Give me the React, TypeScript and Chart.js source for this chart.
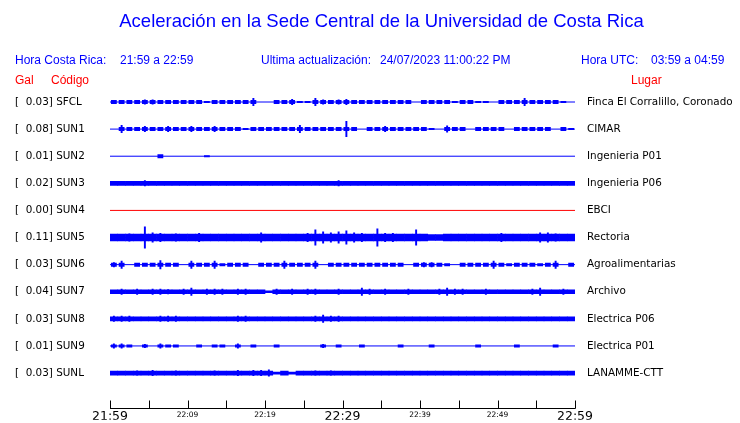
import React, { useEffect, useRef } from 'react';
import { Chart, registerables } from 'chart.js';

Chart.register(...registerables);

// ---------- data ----------
const TITLE = 'Aceleración en la Sede Central de la Universidad de Costa Rica';
const CR_LABEL = 'Hora Costa Rica:';
const CR_RANGE = '21:59 a 22:59';
const UPD_LABEL = 'Ultima actualización:';
const UPD_VALUE = '24/07/2023 11:00:22 PM';
const UTC_LABEL = 'Hora UTC:';
const UTC_RANGE = '03:59 a 04:59';

const CODES = ['SFCL', 'SUN1', 'SUN2', 'SUN3', 'SUN4', 'SUN5', 'SUN6', 'SUN7', 'SUN8', 'SUN9', 'SUNL'];
const GAL = [0.03, 0.08, 0.01, 0.02, 0.0, 0.11, 0.03, 0.04, 0.03, 0.01, 0.03];
const PLACES = [
  'Finca El Corralillo, Coronado',
  'CIMAR',
  'Ingenieria P01',
  'Ingenieria P06',
  'EBCI',
  'Rectoria',
  'Agroalimentarias',
  'Archivo',
  'Electrica P06',
  'Electrica P01',
  'LANAMME-CTT',
];

// x axis: minutes after 21:59, ticks every 5 minutes
const TICK_LABELS = ['21:59', '', '22:09', '', '22:19', '', '22:29', '', '22:39', '', '22:49', '', '22:59'];
const MAJOR_TICKS = ['21:59', '22:29', '22:59'];

// peak amplitude per minute (relative counts)
const AMP_SFCL = [2, 2, 2, 2, 2.5, 2.5, 2, 2, 2, 2, 2, 2, 1, 2, 2, 2, 2, 2, 4, 0, 0, 2, 2, 3, 1, 1, 4, 2.5, 2, 2.5,
  3, 2, 2, 2, 2, 2, 2, 2, 2, 0, 2, 2, 2, 2, 1, 2, 2, 1, 1, 0, 2, 2, 2, 4, 2, 2, 2, 2, 1, 0];
const AMP_SUN1 = [0, 4, 2, 2, 3, 2, 2, 3, 2, 2, 3, 2, 2, 3, 2, 2, 2, 1, 2, 2, 2, 2, 2, 2, 4, 2, 2, 2, 2, 2,
  8, 2, 0, 2, 2, 3, 2, 2, 2, 2, 2, 1, 0, 3.5, 2, 2, 0, 2, 2, 2, 2, 0, 2, 2, 2, 2, 2, 0, 2, 1];
const AMP_SUN2 = [0, 0, 0, 0, 0, 0, 2, 0, 0, 0, 0, 0, 1, 0, 0, 0, 0, 0, 0, 0, 0, 0, 0, 0, 0, 0, 0, 0, 0, 0,
  0, 0, 0, 0, 0, 0, 0, 0, 0, 0, 0, 0, 0, 0, 0, 0, 0, 0, 0, 0, 0, 0, 0, 0, 0, 0, 0, 0, 0, 0];
const AMP_SUN3 = [2, 2, 2, 2, 3, 2, 2, 2, 2, 2, 2, 2, 2, 2, 2, 2, 2, 2, 2, 2, 2, 2, 2, 2, 2, 2, 2, 2, 2, 3,
  2, 2, 2, 2, 2, 2, 2, 2, 2, 2, 2, 2, 2, 2, 2, 2, 2, 2, 2, 2, 2, 2, 2, 2, 2, 2, 2, 2, 2, 2];
const AMP_SUN4 = [0, 0, 0, 0, 0, 0, 0, 0, 0, 0, 0, 0, 0, 0, 0, 0, 0, 0, 0, 0, 0, 0, 0, 0, 0, 0, 0, 0, 0, 0,
  0, 0, 0, 0, 0, 0, 0, 0, 0, 0, 0, 0, 0, 0, 0, 0, 0, 0, 0, 0, 0, 0, 0, 0, 0, 0, 0, 0, 0, 0];
const AMP_SUN5 = [3.5, 3.5, 4, 3.5, 11, 5, 4.5, 3.5, 4, 3.5, 3.5, 4.5, 3.5, 3.5, 3.5, 3.5, 3.5, 3.5, 3.5, 5, 3.5, 3.5, 3.5, 3.5, 3.5, 4.5, 8, 6, 5, 6,
  7, 5, 4.5, 3.5, 9, 4.5, 4.5, 3.5, 3.5, 8, 3.5, 3, 3, 3.5, 3.5, 3.5, 3.5, 3.5, 3.5, 3.5, 4.5, 3.5, 3.5, 3.5, 3.5, 5, 5, 4, 3.5, 3.5];
const AMP_SUN6 = [2.5, 4, 0, 2, 2, 2, 4.5, 2, 2, 0, 4, 2, 2, 4, 1.5, 2, 2, 2, 0, 2, 2, 2, 4, 2, 2, 2, 4, 0, 2, 2,
  2, 2, 2, 2, 2, 2, 2, 2, 0, 2, 2.5, 2.5, 2, 1.5, 0, 2, 2, 2, 2, 4, 2, 1.5, 2, 2, 2, 1.5, 2, 4, 0, 2];
const AMP_SUN7 = [2, 3, 2, 3, 2, 3, 3, 2.5, 2, 3, 4, 2, 3, 3, 3, 2, 3, 3, 2, 2, 1, 3, 2, 3, 2, 3, 3, 2, 2, 3,
  2, 2, 4, 3, 2, 3, 2, 2, 3, 2, 2, 2, 3, 4, 3, 3, 2, 2, 3, 2, 2, 2, 2, 2, 3, 4, 2, 2, 3, 2];
const AMP_SUN8 = [3, 3, 3, 2, 2, 2, 3, 3, 3, 2, 2, 2, 2, 2, 2, 2, 3, 3, 2, 2, 2, 2, 2, 2, 2, 2, 3, 4, 3, 3,
  2, 2, 2, 2, 2, 2, 2, 2, 2, 2, 2, 2, 2, 2, 2, 2, 2, 2, 2, 2, 2, 2, 2, 2, 2, 2, 2, 2, 2, 2];
const AMP_SUN9 = [2.5, 2.5, 1.5, 0, 2, 0, 2.5, 1.5, 1.5, 0, 0, 1.5, 0, 1.5, 1.5, 0, 2.5, 0, 1.5, 0, 0, 1.5, 0, 0, 0, 0, 0, 2, 0, 1.5,
  0, 0, 1.5, 0, 0, 0, 0, 1.5, 0, 0, 0, 1.5, 0, 0, 0, 0, 0, 1.5, 0, 0, 0, 0, 1.5, 0, 0, 0, 0, 1.5, 0, 0];
const AMP_SUNL = [2, 2, 2, 2.5, 2, 3, 2, 2, 2.5, 2, 2, 2, 2, 2.5, 2, 2, 3, 2, 3, 3, 3.5, 1, 2, 1, 2, 2, 2.5, 2, 2.5, 2,
  2, 2, 2, 2, 2, 2, 2, 2, 2, 2, 2, 2, 2, 2, 2, 2, 2, 2, 2, 2, 2, 2, 2, 2, 2, 2, 2, 2, 2, 2];

const AMPLITUDES = [AMP_SFCL, AMP_SUN1, AMP_SUN2, AMP_SUN3, AMP_SUN4, AMP_SUN5, AMP_SUN6, AMP_SUN7, AMP_SUN8, AMP_SUN9, AMP_SUNL];
// steady noise level of each trace (relative counts)
const NOISE_LEVEL = [2, 2, 2, 2, 0, 3.5, 2, 2, 2, 1.5, 2];

// ---------- style ----------
const BLUE = '#0000ff';
const RED = '#ff0000';
const TRACE_COLORS = ['b', 'b', 'b', 'b', 'r', 'b', 'b', 'b', 'b', 'b', 'b'];
const CONTINUOUS = [false, false, false, true, false, true, false, true, true, false, true];
const GAIN = 1 / 27.1;
const Y_MIN = -0.5;
const Y_MAX = 11.17;
const AXIS_Y = 11.29; // position of the time axis on the trace scale

function buildDatasets() {
  const ds: any[] = [];
  CODES.forEach((_, i) => {
    const color = TRACE_COLORS[i] === 'r' ? RED : BLUE;
    const amps = AMPLITUDES[i];
    const lvl = NOISE_LEVEL[i];
    ds.push({
      type: 'line',
      data: [{ x: 0, y: i }, { x: 60, y: i }],
      borderColor: color,
      borderWidth: 1,
      pointRadius: 0,
      yAxisID: 'y',
      order: 2,
    });
    const body: any[] = [];
    const peaks: any[] = [];
    amps.forEach((a, m) => {
      if (a <= 0) return;
      const b = Math.min(a, lvl);
      body.push({ x: m + 0.5, y: [i - b * GAIN, i + b * GAIN] });
      if (a > lvl) peaks.push({ x: m + 0.5, y: [i - a * GAIN, i + a * GAIN] });
    });
    ds.push({
      type: 'bar',
      data: body,
      backgroundColor: color,
      borderWidth: 0,
      grouped: false,
      barPercentage: CONTINUOUS[i] ? 1 : 0.75,
      categoryPercentage: 1,
      yAxisID: 'y',
      order: 1,
    });
    ds.push({
      type: 'bar',
      data: peaks,
      backgroundColor: color,
      borderWidth: 0,
      grouped: false,
      barPercentage: 0.25,
      categoryPercentage: 1,
      yAxisID: 'y',
      order: 0,
    });
  });
  return ds;
}

const overlay = {
  id: 'overlay',
  afterDraw(chart: any) {
    const ctx = chart.ctx;
    const xs = chart.scales.x;
    const ys = chart.scales.y;
    const axisPx = Math.round(ys.getPixelForValue(AXIS_Y)) + 0.5;
    ctx.save();
    ctx.strokeStyle = '#000';
    ctx.lineWidth = 1;
    ctx.beginPath();
    ctx.moveTo(xs.getPixelForValue(0), axisPx);
    ctx.lineTo(xs.getPixelForValue(60) + 0.5, axisPx);
    ctx.stroke();
    TICK_LABELS.forEach((_, k) => {
      const px = Math.round(xs.getPixelForValue(k * 5)) + 0.5;
      ctx.beginPath();
      ctx.moveTo(px, axisPx - 8);
      ctx.lineTo(px, axisPx);
      ctx.stroke();
    });
    ctx.textBaseline = 'middle';
    ctx.fillStyle = BLUE;
    ctx.textAlign = 'center';
    ctx.font = '18.5px "Liberation Sans", Arial, sans-serif';
    ctx.fillText(TITLE, 381.5, 22);
    ctx.textAlign = 'left';
    ctx.font = '12px "Liberation Sans", Arial, sans-serif';
    ctx.fillText(CR_LABEL, 15, 61);
    ctx.fillText(CR_RANGE, 120, 61);
    ctx.fillText(UPD_LABEL, 261, 61);
    ctx.fillText(UPD_VALUE, 380, 61);
    ctx.fillText(UTC_LABEL, 581, 61);
    ctx.fillText(UTC_RANGE, 651, 61);
    ctx.fillStyle = RED;
    ctx.fillText('Gal', 15, 81);
    ctx.fillText('Código', 51, 81);
    ctx.fillText('Lugar', 631, 81);
    ctx.restore();
  },
};

export default function App() {
  const ref = useRef<HTMLCanvasElement | null>(null);
  useEffect(() => {
    if (!ref.current) return;
    const yTicks = (s: any) => {
      s.ticks = CODES.map((_, i) => ({ value: i }));
    };
    const chart = new Chart(ref.current, {
      type: 'bar',
      data: { datasets: buildDatasets() },
      options: {
        responsive: false,
        animation: false,
        events: [],
        layout: { padding: { top: 88.45, left: 15, right: 0, bottom: 0 } },
        plugins: { legend: { display: false }, tooltip: { enabled: false } },
        scales: {
          x: {
            type: 'linear',
            position: 'bottom',
            min: 0,
            max: 60,
            offset: false,
            grid: { display: false, drawTicks: false, offset: false },
            border: { display: false },
            ticks: {
              stepSize: 5,
              autoSkip: false,
              maxRotation: 0,
              padding: 4.5,
              color: '#000',
              callback: (v: any) => TICK_LABELS[Math.round(Number(v) / 5)] ?? '',
              font: (c: any) => {
                const lbl = c.tick ? TICK_LABELS[Math.round(c.tick.value / 5)] : '';
                return MAJOR_TICKS.includes(lbl)
                  ? { family: '"DejaVu Sans"', size: 12.5, lineHeight: 1.2 }
                  : { family: '"DejaVu Sans"', size: 7.5, lineHeight: 1.65 };
              },
            },
            afterFit: (s: any) => { s.height = 15; },
          },
          y: {
            type: 'linear',
            position: 'left',
            reverse: true,
            min: Y_MIN,
            max: Y_MAX,
            bounds: 'data',
            grid: { display: false, drawTicks: false },
            border: { display: false },
            afterBuildTicks: yTicks,
            ticks: {
              autoSkip: false,
              crossAlign: 'far',
              color: '#000',
              font: { family: '"DejaVu Sans"', size: 10.4 },
              callback: (v: any) => {
                const i = Math.round(Number(v));
                return `[${GAL[i].toFixed(2).padStart(6, ' ')}] ${CODES[i]}`;
              },
            },
            afterFit: (s: any) => { s.width = 95; },
          },
          y2: {
            type: 'linear',
            position: 'right',
            display: true,
            reverse: true,
            min: Y_MIN,
            max: Y_MAX,
            bounds: 'data',
            grid: { display: false, drawTicks: false },
            border: { display: false },
            afterBuildTicks: yTicks,
            ticks: {
              autoSkip: false,
              crossAlign: 'near',
              padding: 12,
              color: '#000',
              font: { family: '"DejaVu Sans"', size: 10.4 },
              callback: (v: any) => PLACES[Math.round(Number(v))],
            },
            afterFit: (s: any) => { s.width = 165; },
          },
        },
      } as any,
      plugins: [overlay],
    });
    return () => chart.destroy();
  }, []);
  return (
    <div style={{ position: 'absolute', left: 0, top: 0, width: 740, height: 423, background: '#fff' }}>
      <canvas ref={ref} width={740} height={423} style={{ display: 'block' }} />
    </div>
  );
}
